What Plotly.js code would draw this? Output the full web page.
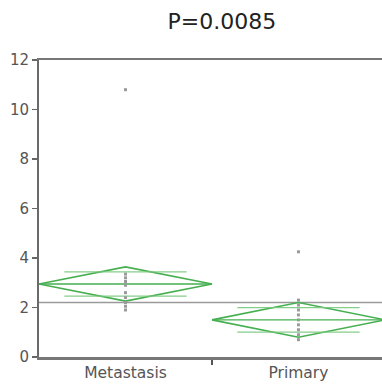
<!DOCTYPE html>
<html>
<head>
<meta charset="utf-8">
<script src="https://cdn.plot.ly/plotly-3.0.1.min.js"></script>
<style>html,body{margin:0;padding:0;background:#fff;}#chart{width:382px;height:387px;}</style>
</head>
<body>
<div id="chart"></div>
<script>
// ---- data ----
const categories = ["Metastasis", "Primary"];
const metastasisValues = [10.8, 3.35, 3.2, 3.05, 2.9, 2.6, 2.4, 2.2, 2.05, 1.9];
const primaryValues = [4.25, 2.3, 2.1, 1.9, 1.7, 1.5, 1.3, 1.1, 0.9, 0.7];
const groupMeans = [2.95, 1.5];
const ciLower = [2.26, 0.8];
const ciUpper = [3.64, 2.2];
const grandMean = 2.2;
const pValueText = "P=0.0085";
const yTicks = [0, 2, 4, 6, 8, 10, 12];

const green = "rgb(70,175,80)";
const lightGreen = "rgba(120,200,125,0.9)";
const groups = [metastasisValues, primaryValues];
const traces = [];

// grand mean line
traces.push({
  x: [0, categories.length], y: [grandMean, grandMean], mode: "lines",
  line: {color: "#9a9a9a", width: 1.5}, hoverinfo: "skip", showlegend: false
});

groups.forEach((vals, i) => {
  const c = i + 0.5, l = i, r = i + 1;
  const m = groupMeans[i], lo = ciLower[i], hi = ciUpper[i];
  const hw = (hi - lo) / 2, ov = hw / Math.SQRT2;
  // diamond outline
  traces.push({
    x: [l, c, r, c, l], y: [m, hi, m, lo, m], mode: "lines",
    line: {color: green, width: 1.6}, hoverinfo: "skip", showlegend: false
  });
  // mean line
  traces.push({
    x: [l, r], y: [m, m], mode: "lines",
    line: {color: green, width: 1.3}, hoverinfo: "skip", showlegend: false
  });
  // overlap marks
  const f = 1 - ov / hw;
  [m + ov, m - ov].forEach(yv => {
    traces.push({
      x: [l + 0.5 * f, r - 0.5 * f], y: [yv, yv], mode: "lines",
      line: {color: lightGreen, width: 1.3}, hoverinfo: "skip", showlegend: false
    });
  });
  // points
  traces.push({
    x: vals.map(() => c), y: vals, mode: "markers", type: "scatter",
    marker: {color: "#9a9a9a", size: 3, symbol: "square"},
    showlegend: false
  });
});

const layout = {
  width: 382, height: 387,
  margin: {l: 39, r: 0, t: 60, b: 30},
  paper_bgcolor: "#fff", plot_bgcolor: "#fff",
  showlegend: false,
  title: {
    text: pValueText, xref: "container", yref: "container",
    x: 0.581, xanchor: "center", y: 1 - 21 / 387, yanchor: "middle",
    font: {family: "DejaVu Sans", size: 22, color: "#222"}
  },
  xaxis: {
    range: [0, 1.983], showgrid: false, zeroline: false,
    showline: true, linecolor: "#777", linewidth: 2.5, mirror: true,
    tickmode: "array", tickvals: categories.map((_, i) => i + 0.5), ticktext: categories,
    ticks: "",
    minor: {tickmode: "array", tickvals: [1], ticks: "outside", ticklen: 5, tickwidth: 1.5, tickcolor: "#555"},
    tickfont: {family: "DejaVu Sans", size: 15.5, color: "#555"},
    fixedrange: true
  },
  yaxis: {
    range: [0, 12], showgrid: false, zeroline: false,
    showline: true, linecolor: "#6a6a6a", linewidth: 2,
    tickmode: "array", tickvals: yTicks, ticktext: yTicks.map(String),
    ticks: "outside", ticklen: 5, tickwidth: 1.5, tickcolor: "#666",
    tickfont: {family: "DejaVu Sans", size: 15, color: "#555"},
    fixedrange: true
  }
};

Plotly.newPlot("chart", traces, layout, {displayModeBar: false, staticPlot: true});
</script>
</body>
</html>
